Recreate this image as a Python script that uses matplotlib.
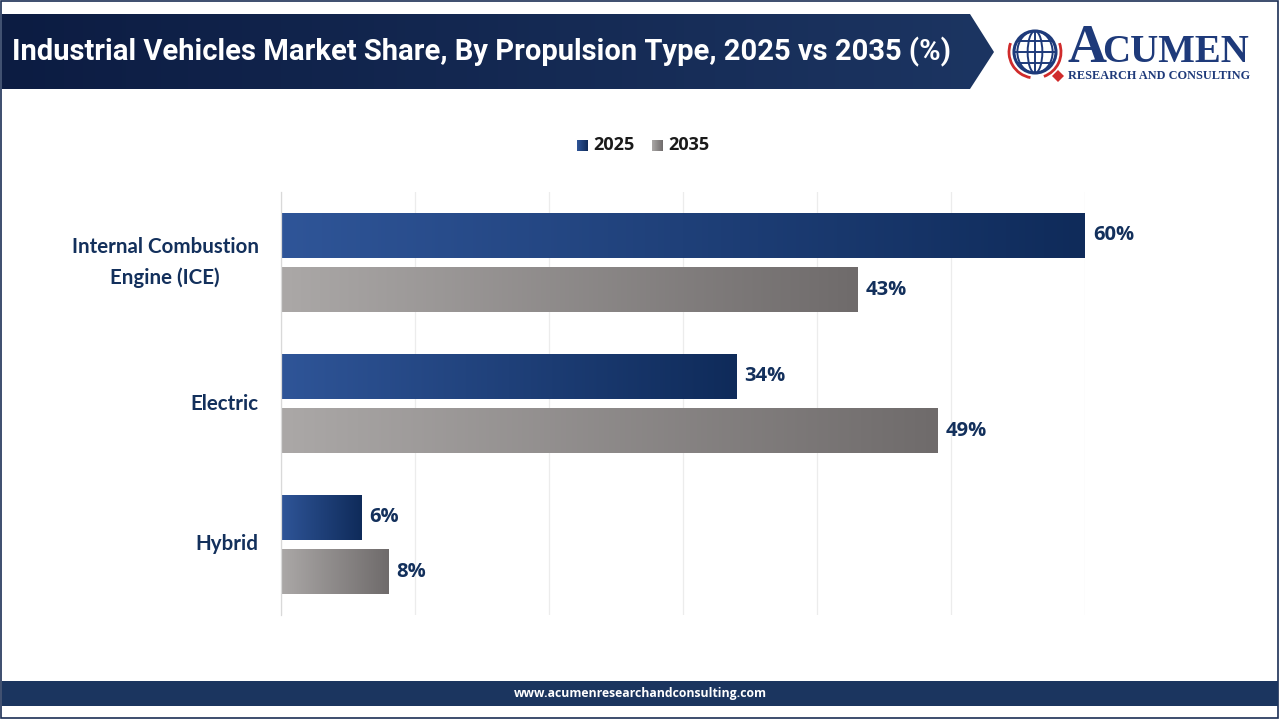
import numpy as np
import matplotlib
matplotlib.use("Agg")
import matplotlib.pyplot as plt
from matplotlib.colors import LinearSegmentedColormap
from matplotlib.patches import Polygon, Rectangle, Circle, Arc, Ellipse

# data
categories = ["Internal Combustion\nEngine (ICE)", "Electric", "Hybrid"]
share_2025 = [60, 34, 6]
share_2035 = [43, 49, 8]
series_names = ["2025", "2035"]

title = "Industrial Vehicles Market Share, By Propulsion Type, 2025 vs 2035 (%)"
footer = "www.acumenresearchandconsulting.com"

navy = "#13305c"
blue_cmap = LinearSegmentedColormap.from_list("blue", ["#2f5598", "#0f2b5a"])
grey_cmap = LinearSegmentedColormap.from_list("grey", ["#aba8a7", "#6f6b6b"])
banner_cmap = LinearSegmentedColormap.from_list("banner", ["#0c1c42", "#1c3562"])

fig = plt.figure(figsize=(12.8, 7.2), dpi=100)
fig.patch.set_facecolor("white")

# background layer in pixel coords
bg = fig.add_axes([0, 0, 1, 1], zorder=0)
bg.set_xlim(0, 1280)
bg.set_ylim(720, 0)
bg.axis("off")

# frame
bg.add_patch(Rectangle((1, 1), 1277, 717, fill=False, ec="#1b2f55", lw=1.2))

# title banner with gradient
banner = Polygon([(2, 14), (970, 14), (994, 52), (970, 89), (2, 89)], closed=True,
                 fc="none", ec="none")
bg.add_patch(banner)
grad = np.linspace(0, 1, 256).reshape(1, -1)
im = bg.imshow(grad, cmap=banner_cmap, extent=(2, 994, 89, 14), aspect="auto", zorder=1)
im.set_clip_path(banner)
bg.text(12, 52, title, color="white", fontsize=21, fontweight="bold",
        family=["Roboto", "DejaVu Sans"], va="center", ha="left", zorder=2)

# logo
cx, cy, r = 1035, 52, 21
bg.add_patch(Circle((cx, cy), r, fc="white", ec="#1e3a7a", lw=2.2, zorder=2))
for w in [0.5, 1.2]:
    bg.add_patch(Ellipse((cx, cy), 2 * r * w * 0.7, 2 * r, fill=False, ec="#1e3a7a", lw=1.4, zorder=2))
for dy in [-11, 0, 11]:
    half = np.sqrt(max(r ** 2 - dy ** 2, 0))
    bg.plot([cx - half, cx + half], [cy + dy, cy + dy], color="#1e3a7a", lw=1.4, zorder=2)
bg.plot([cx, cx], [cy - r, cy + r], color="#1e3a7a", lw=1.4, zorder=2)
bg.add_patch(Arc((cx, cy), 2 * r + 10, 2 * r + 10, theta1=100, theta2=200, ec="#d02b2b", lw=2, zorder=2))
bg.add_patch(Arc((cx, cy), 2 * r + 10, 2 * r + 10, theta1=-20, theta2=70, ec="#d02b2b", lw=2, zorder=2))
bg.add_patch(Polygon([(cx + 17, cy + 24), (cx + 23, cy + 18), (cx + 29, cy + 24), (cx + 23, cy + 30)],
                     fc="#d02b2b", ec="none", zorder=3))
bg.text(1067, 62, "A", color="#1e3a7a", fontsize=39, fontweight="bold", family="Liberation Serif",
        va="baseline", ha="left", zorder=2)
bg.text(1102, 62, "CUMEN", color="#1e3a7a", fontsize=28, fontweight="bold", family="Liberation Serif",
        va="baseline", ha="left", zorder=2)
bg.text(1068, 76, "RESEARCH AND CONSULTING", color="#1e3a7a", fontsize=8.8, fontweight="bold",
        family="Liberation Serif", va="center", ha="left", zorder=2)

# footer band
bg.add_patch(Rectangle((2, 681), 1276, 25, fc="#1b355f", ec="none", zorder=1))
bg.text(640, 693.5, footer, color="white", fontsize=8.8, fontweight="bold",
        family=["Open Sans", "DejaVu Sans"], ha="center", va="center", zorder=2)

# chart
ax = fig.add_axes([281 / 1280, 1 - 615 / 720, (1085 - 281) / 1280, (615 - 192) / 720], zorder=2)
ax.patch.set_alpha(0)
y = np.arange(len(categories))
h = 0.318
off = 0.194
bars1 = ax.barh(y - off, share_2025, height=h, color="none", zorder=2)
bars2 = ax.barh(y + off, share_2035, height=h, color="none", zorder=2)

for bars, cmap in [(bars1, blue_cmap), (bars2, grey_cmap)]:
    for b in bars:
        x0, y0 = b.get_x(), b.get_y()
        w, hh = b.get_width(), b.get_height()
        img = ax.imshow(grad, cmap=cmap, extent=(x0, x0 + w, y0, y0 + hh),
                        aspect="auto", zorder=2)
        img.set_clip_path(b)
        ax.text(x0 + w + 0.6, y0 + hh / 2, f"{w:.0f}%", color=navy, fontsize=14.5,
                fontweight="bold", family=["Open Sans", "DejaVu Sans"],
                va="center", ha="left", zorder=3)

ax.set_xlim(0, 60)
ax.set_ylim(2.5, -0.5)
ax.set_xticks(np.arange(0, 61, 10))
ax.xaxis.grid(True, color="#ececec", lw=0.9, zorder=0)
ax.set_axisbelow(True)
ax.tick_params(axis="x", length=0, labelbottom=False)
ax.set_yticks(y)
ax.set_yticklabels([])
ax.tick_params(axis="y", length=0)
for yi, cat in zip(y, categories):
    ax.annotate(cat, xy=(0, yi), xytext=(-16, 0), textcoords="offset points",
                color=navy, fontsize=14.8, fontweight="bold",
                family=["Lato", "Open Sans", "DejaVu Sans"], ha="right", va="center",
                multialignment="center", linespacing=1.6)
for s in ["top", "right", "bottom"]:
    ax.spines[s].set_visible(False)
ax.spines["left"].set_color("#d9d9d9")
ax.spines["left"].set_linewidth(0.9)

# legend drawn in background coords with gradient swatches
for name, cmap, lx in [(series_names[0], blue_cmap, 577), (series_names[1], grey_cmap, 652)]:
    sw = Rectangle((lx, 140), 11, 11, fc="none", ec="none")
    bg.add_patch(sw)
    g = bg.imshow(grad, cmap=cmap, extent=(lx, lx + 11, 151, 140), aspect="auto", zorder=2)
    g.set_clip_path(sw)
    bg.text(lx + 16, 145.5, name, color="#1a1a1a", fontsize=13, fontweight="bold",
            family=["Open Sans", "DejaVu Sans"], va="center", ha="left", zorder=2)

bg.set_xlim(0, 1280)
bg.set_ylim(720, 0)

fig.savefig("out.png", dpi=100)
